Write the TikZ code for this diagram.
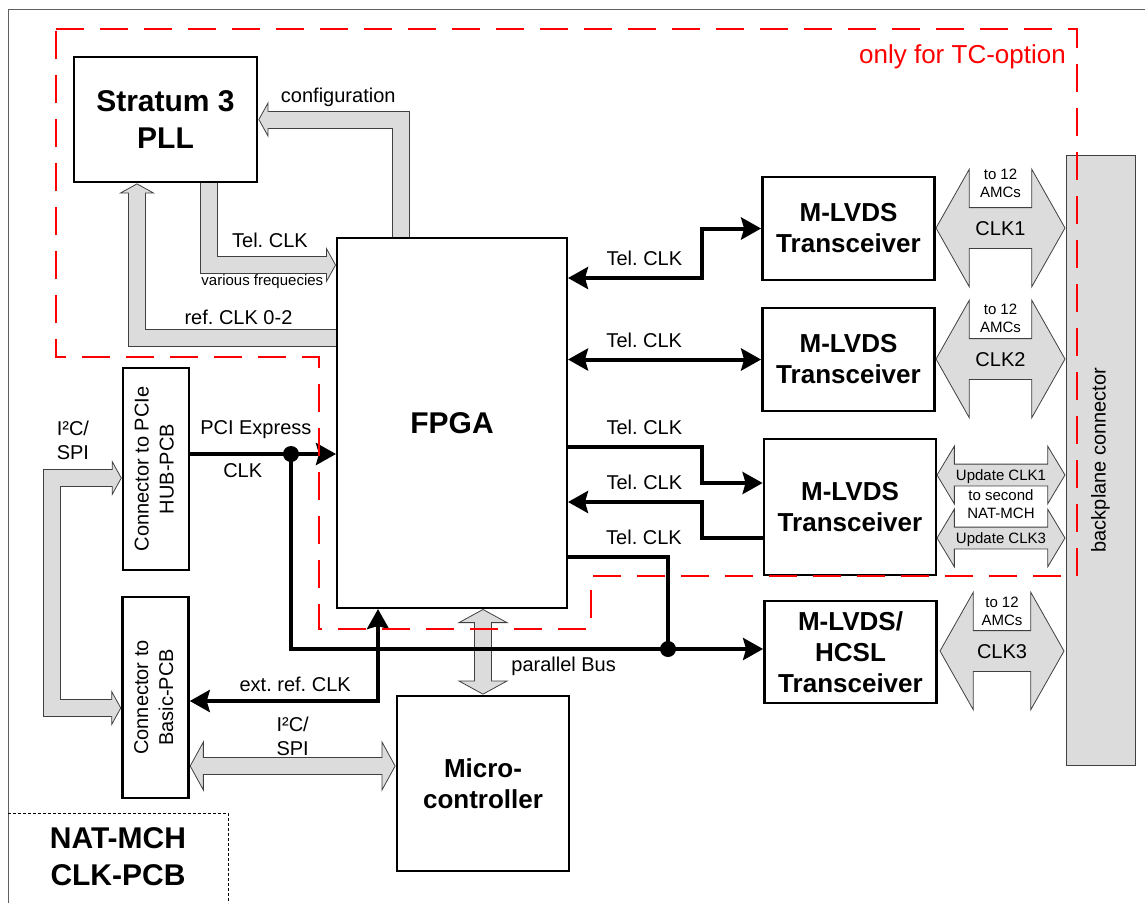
\documentclass[tikz,border=0pt]{standalone}
\usepackage{fontspec}
\setmainfont{Liberation Sans}
\usepackage{graphicx}
\usetikzlibrary{arrows.meta,shapes.arrows,positioning}
\definecolor{busfill}{HTML}{DCDCDC}
\definecolor{busline}{HTML}{404040}
\definecolor{optred}{HTML}{FF0000}
\definecolor{framegray}{HTML}{606060}
\frenchspacing

\begin{document}
\begin{tikzpicture}[
  x=1pt, y=-1pt,
  font=\fontsize{20}{24}\selectfont,
  >={Stealth[length=20pt,width=22pt,inset=3pt]},
  box/.style={draw, line width=2.8pt, align=center, inner sep=0pt,
              font=\fontsize{26}{31}\selectfont\bfseries},
  bigbox/.style={box, font=\fontsize{30}{37}\selectfont\bfseries},
  conn/.style={draw, line width=2.5pt, inner sep=0pt, minimum width=66pt,
               minimum height=202pt, font=\fontsize{20}{25}\selectfont},
  lbl/.style={inner sep=2pt, text=black},
  small/.style={inner sep=1pt, align=center, text=black,
                font=\fontsize{15}{18}\selectfont},
  sig/.style={line width=4pt},
  bus/.style={draw=busline, line width=.8pt,
    -{Triangle[length=10pt,width=36pt,fill=busfill]},
    preaction={draw=busline, -, line width=18pt, shorten >=9pt},
    postaction={draw=busfill, -, line width=16pt, shorten >=8pt}},
  busboth/.style={draw=busline, line width=.8pt,
    {Triangle[length=10pt,width=36pt,fill=busfill]}-{Triangle[length=10pt,width=36pt,fill=busfill]},
    preaction={draw=busline, -, line width=18pt, shorten >=9pt, shorten <=9pt},
    postaction={draw=busfill, -, line width=16pt, shorten >=8pt, shorten <=8pt}},
  wide/.style={draw=busline, line width=.8pt,
    {Triangle[length=14pt,width=51pt,fill=busfill]}-{Triangle[length=14pt,width=51pt,fill=busfill]},
    preaction={draw=busline, -, line width=18pt, shorten >=13pt, shorten <=13pt},
    postaction={draw=busfill, -, line width=16pt, shorten >=12pt, shorten <=12pt}},
  dbl/.style={double arrow, draw=busline, fill=busfill, line width=.8pt,
    double arrow tip angle=121, double arrow head extend=38.5pt,
    minimum height=129pt, minimum width=0pt, inner xsep=0pt, inner ysep=13pt,
    text height=14pt, text depth=0pt},
  upd/.style={dbl, double arrow tip angle=118, double arrow head extend=18pt,
    minimum height=128pt, inner ysep=5pt, text height=11pt,
    font=\fontsize{15}{18}\selectfont},
]
\useasboundingbox (0,0) rectangle (1145,903);
% frame of the board
\draw[framegray, line width=1pt] (8,903) -- (8,9) -- (1145,9);
\draw[line width=.8pt, dash pattern=on 3pt off 2pt] (8,813) -- (228,813) -- (228,903);
\node[font=\fontsize{30}{37}\selectfont\bfseries, align=center, inner sep=0pt] (nat) at (118,857) {NAT-MCH\\CLK-PCB};

% blocks
\node[bigbox, minimum width=183pt, minimum height=125pt] (pll) at (165.5,119.5) {Stratum 3\\PLL};
\node[bigbox, line width=2pt, minimum width=230pt, minimum height=370pt] (fpga) at (452,423) {FPGA};
\node[box, minimum width=172pt, minimum height=103pt] (lvdsA) at (848.5,228.5) {M-LVDS\\Transceiver};
\node[box, minimum width=172pt, minimum height=103pt] (lvdsB) at (848.5,359.5) {M-LVDS\\Transceiver};
\node[box, minimum width=172pt, minimum height=136pt] (lvdsC) at (850,507) {M-LVDS\\Transceiver};
\node[box, minimum width=172pt, minimum height=102pt] (lvdsD) at (850.5,652) {M-LVDS/\\HCSL\\Transceiver};
\node[box, minimum width=172pt, minimum height=175pt] (mcu) at (483,783.5) {Micro-\\controller};
\node[conn] (pcie) at (156,469)
  {\rotatebox{90}{\begin{tabular}{@{}c@{}}Connector to PCIe\\HUB-PCB\end{tabular}}};
\node[conn, minimum height=201pt] (basic) at (155.5,697.5)
  {\rotatebox{90}{\begin{tabular}{@{}c@{}}Connector to\\Basic-PCB\end{tabular}}};
\node[draw=busline, fill=busfill, line width=.8pt, inner sep=0pt,
      minimum width=69pt, minimum height=610pt] (bp) at (1100.5,460)
  {\rotatebox{90}{backplane connector}};

% wide grey buses
\coordinate (cfg) at (401,119.5);
\draw[bus] (fpga.north -| cfg) -- (cfg)
  -- node[lbl, above=10pt, pos=.44] {configuration} (pll.east |- cfg);
\coordinate (tel) at (209,265);
\draw[bus] (pll.south -| tel) -- (tel)
  -- node[lbl, above=15pt, pos=.48] {Tel. CLK}
     node[small, below=8pt, pos=.42] {various frequecies} (fpga.west |- tel);
\coordinate (ref) at (137,338);
\draw[bus] (fpga.west |- ref) -- node[lbl, above=11pt, pos=.49] {ref. CLK 0-2} (ref)
  -- (ref |- pll.south);
\coordinate (isa) at (52,478);
\coordinate (isb) at (52,708);
\draw[busboth] (pcie.west |- isa)
  -- node[lbl, above=16pt, pos=.7, align=left] {I²C/\\SPI} (isa) -- (isb) -- (basic.west |- isb);
\coordinate (isc) at (0,766);
\draw[wide] (basic.east |- isc)
  -- node[lbl, above=8pt, pos=.5, align=left] {I²C/\\SPI} (mcu.west |- isc);
\coordinate (pb) at (483,0);
\draw[wide] (fpga.south -| pb)
  -- node[lbl, right=26pt, pos=.67] {parallel Bus} (mcu.north -| pb);

% clock lines
\coordinate (tA) at (702,278);
\draw[sig, <->] (fpga.east |- tA) -- node[lbl, above=8pt, pos=.57] {Tel. CLK} (tA)
  -- (tA |- lvdsA.west) -- (lvdsA.west);
\draw[sig, <->] (fpga.east |- lvdsB.west)
  -- node[lbl, above=8pt, pos=.395] {Tel. CLK} (lvdsB.west);
\coordinate (tC) at (702,447);
\coordinate (tCb) at (702,483);
\draw[sig, ->] (fpga.east |- tC) -- node[lbl, above=8pt, pos=.57] {Tel. CLK} (tC)
  -- (tCb) -- (lvdsC.west |- tCb);
\coordinate (tD) at (702,538);
\coordinate (tDb) at (702,502);
\draw[sig, ->] (lvdsC.west |- tD) -- (tD) -- (tDb)
  -- node[lbl, above=8pt, pos=.43] {Tel. CLK} (fpga.east |- tDb);
\coordinate (tE) at (668,557);
\coordinate (jB) at (668,649);
\draw[sig] (fpga.east |- tE) -- node[lbl, above=8pt, pos=.76] {Tel. CLK} (tE) -- (jB);
\coordinate (jA) at (291,454);
\coordinate (jC) at (291,649);
\draw[sig, ->] (pcie.east |- jA)
  -- node[lbl, above=11pt, pos=.45] {PCI Express}
     node[lbl, below=6pt, pos=.36] {CLK} (fpga.west |- jA);
\draw[sig, ->] (jA) -- (jC) -- (lvdsD.west |- jC);
\fill (jA) circle (8pt);
\fill (jB) circle (8pt);
\coordinate (ext) at (378,701);
\draw[sig, <->] (basic.east |- ext) -- node[lbl, above=5pt, pos=.56] {ext. ref. CLK} (ext)
  -- (ext |- fpga.south);

% links to the backplane
\node[dbl] (clkA) at (1000.5,228) {CLK1};
\node[dbl] (clkB) at (1000.5,359) {CLK2};
\node[upd] (updA) at (1001,475) {Update CLK1};
\node[upd] (updB) at (1001,538) {Update CLK3};
\node[dbl, minimum height=124pt] (clkC) at (1002,651) {CLK3};
\node[small] (amcA) at (1000.5,183) {to 12\\AMCs};
\node[small] (amcB) at (1000.5,318) {to 12\\AMCs};
\node[small] (amcC) at (1002,611) {to 12\\AMCs};
\node[small] (mch2) at (1001,504) {to second\\NAT-MCH};

% TC option area
\draw[optred, line width=1.6pt, dash pattern=on 28pt off 16pt]
  (56,29) -- (1077,29) -- (1077,576) -- (591,576) -- (591,629) -- (319,629)
  -- (319,357) -- (56,357) -- cycle;
\node[optred, anchor=east, inner sep=0pt, font=\fontsize{26}{30}\selectfont] (tc) at (1066,57) {only for TC-option};
\end{tikzpicture}
\end{document}
